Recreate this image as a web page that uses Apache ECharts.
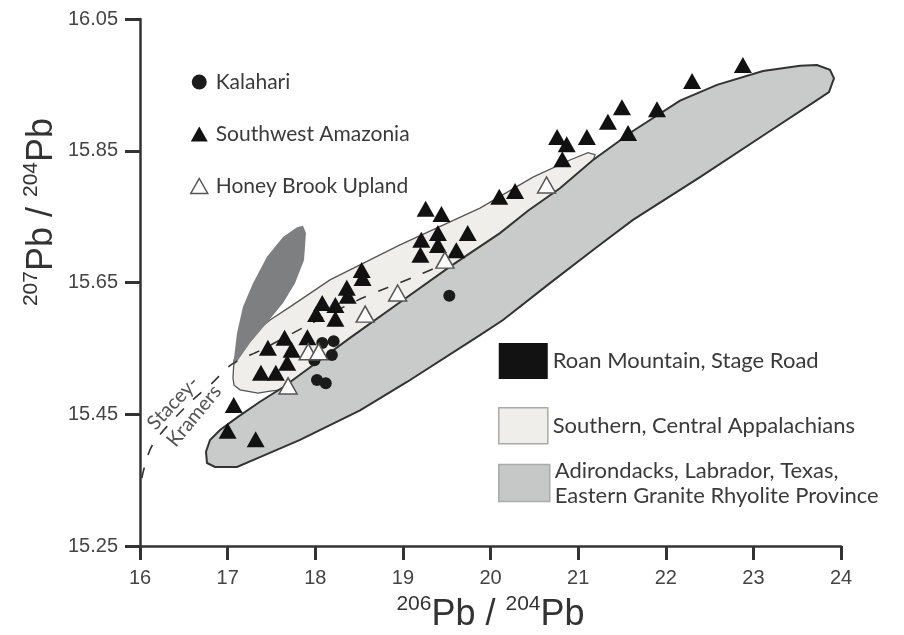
<!DOCTYPE html>
<html>
<head>
<meta charset="utf-8">
<script src="https://cdn.jsdelivr.net/npm/echarts@6/dist/echarts.min.js"></script>
<style>
  html, body { margin: 0; padding: 0; background: #fff; }
  #chart { width: 904px; height: 635px; }
</style>
</head>
<body>
<div id="chart"></div>
<script>
// 206Pb/204Pb, 207Pb/204Pb pairs
const kalahari = [
  [19.53, 15.630], [18.08, 15.558], [18.21, 15.561], [18.19, 15.540],
  [17.99, 15.532], [18.02, 15.502], [18.12, 15.497]
]
const amazonia = [
  [22.88, 15.980], [22.30, 15.956], [21.50, 15.916], [21.90, 15.913],
  [21.34, 15.894], [21.57, 15.877], [20.76, 15.871], [20.87, 15.860],
  [21.10, 15.871], [20.82, 15.837], [20.28, 15.789], [20.10, 15.780],
  [19.26, 15.762], [19.44, 15.754], [19.40, 15.725], [19.21, 15.715],
  [19.74, 15.725], [19.40, 15.707], [19.61, 15.699], [19.20, 15.692],
  [18.53, 15.669], [18.54, 15.657], [18.36, 15.642], [18.37, 15.630],
  [18.08, 15.619], [18.23, 15.616], [18.01, 15.602], [18.23, 15.595],
  [17.65, 15.566], [17.91, 15.567], [17.46, 15.551], [17.73, 15.548],
  [17.68, 15.528], [17.38, 15.513], [17.55, 15.513], [17.07, 15.464],
  [17.00, 15.425], [17.32, 15.412]
]
const honeyBrook = [
  [20.64, 15.798], [19.48, 15.684], [18.94, 15.634], [18.57, 15.602],
  [17.92, 15.545], [18.04, 15.545], [17.69, 15.493]
]
const staceyKramers = [
  [16.02, 15.353], [16.14, 15.403], [16.54, 15.464], [16.82, 15.497],
  [17.05, 15.526], [17.39, 15.548], [17.97, 15.589], [18.53, 15.626],
  [18.82, 15.642], [19.12, 15.658], [19.37, 15.672]
]

// field outlines
const roanMountain = [
  [17.061, 15.522], [17.107, 15.573], [17.175, 15.613], [17.290, 15.649],
  [17.449, 15.689], [17.632, 15.719], [17.792, 15.734], [17.860, 15.736],
  [17.894, 15.725], [17.872, 15.684], [17.769, 15.649], [17.632, 15.619],
  [17.449, 15.589], [17.255, 15.558], [17.118, 15.532]
]
const appalachians = [
  [17.061, 15.505], [17.073, 15.532], [17.164, 15.555], [17.312, 15.575],
  [17.484, 15.593], [17.712, 15.613], [18.168, 15.654], [18.967, 15.707],
  [19.880, 15.763], [20.485, 15.810], [20.907, 15.836], [21.113, 15.847],
  [21.193, 15.844], [21.150, 15.825], [20.100, 15.700], [18.900, 15.590],
  [17.800, 15.490], [17.484, 15.485], [17.347, 15.482], [17.141, 15.487],
  [17.073, 15.494]
]
const adirondacks = [
  [16.753, 15.393], [16.799, 15.411], [16.913, 15.426], [17.118, 15.446],
  [17.369, 15.469], [17.632, 15.491], [17.826, 15.510], [18.397, 15.566],
  [18.967, 15.620], [19.538, 15.674], [20.108, 15.725], [20.428, 15.759],
  [20.793, 15.793], [21.170, 15.836], [21.626, 15.880], [22.163, 15.926],
  [22.585, 15.950], [23.110, 15.971], [23.532, 15.979], [23.726, 15.980],
  [23.874, 15.973], [23.920, 15.960], [23.863, 15.939], [23.669, 15.922],
  [23.155, 15.877], [22.391, 15.810], [21.626, 15.745], [21.215, 15.704],
  [20.679, 15.649], [20.143, 15.593], [19.880, 15.570], [19.047, 15.499],
  [18.511, 15.456], [17.826, 15.411], [17.369, 15.385], [17.107, 15.370],
  [16.856, 15.370], [16.765, 15.376]
]

const pointNames = ['Kalahari', 'Southwest Amazonia', 'Honey Brook Upland']
const fieldNames = [
  'Roan Mountain, Stage Road',
  'Southern, Central Appalachians',
  'Adirondacks, Labrador, Texas,\nEastern Granite Rhyolite Province'
]

const chart = echarts.init(document.getElementById('chart'))

const textFont = 'Lato, "DejaVu Sans", sans-serif'
const labelFont = '"Liberation Sans", Arial, sans-serif'

// polygon drawn once per series through the cartesian scales
const fieldSeries = (name, pts, fill, stroke, lw, z) => ({
  type: 'custom',
  name,
  z,
  silent: true,
  itemStyle: { color: fill },
  data: pts,
  renderItem: (params, api) => {
    if (params.dataIndex !== 0) return null
    return {
      type: 'polygon',
      shape: { points: pts.map(p => api.coord(p)) },
      style: { fill, stroke, lineWidth: lw }
    }
  }
})

const nameRich = {
  b: { fontSize: 36, fontFamily: labelFont, color: '#333', fill: '#333', lineHeight: 40, verticalAlign: 'bottom' },
  sup: { fontSize: 21, fontFamily: labelFont, color: '#333', fill: '#333', lineHeight: 40, verticalAlign: 'top', padding: [1, 0, 0, 0] }
}

const option = {
  animation: false,
  grid: { left: 140, right: 63, top: 19, bottom: 89, outerBoundsMode: 'none', containLabel: false },
  xAxis: {
    type: 'value',
    min: 16,
    max: 24,
    interval: 1,
    name: '{sup|206}{b|Pb / }{sup|204}{b|Pb}',
    nameLocation: 'middle',
    nameGap: 45,
    nameTextStyle: { rich: nameRich },
    axisLine: { lineStyle: { color: '#333', width: 2.5 } },
    axisTick: { length: 14, lineStyle: { color: '#333', width: 3 } },
    axisLabel: { margin: 22, fontSize: 20, color: '#444', fontFamily: labelFont },
    splitLine: { show: false }
  },
  yAxis: {
    type: 'value',
    min: 15.25,
    max: 16.05,
    interval: 0.2,
    axisLine: { show: true, lineStyle: { color: '#333', width: 2.5 } },
    axisTick: { show: true, length: 15, lineStyle: { color: '#333', width: 3 } },
    axisLabel: {
      margin: 22, fontSize: 20, color: '#444', fontFamily: labelFont,
      formatter: v => v.toFixed(2)
    },
    splitLine: { show: false }
  },
  legend: [
    {
      data: [
        { name: pointNames[0], icon: 'circle' },
        { name: pointNames[1], icon: 'triangle' },
        { name: pointNames[2], icon: 'triangle', itemStyle: { color: '#fff', borderColor: '#555', borderWidth: 1.5 } }
      ],
      orient: 'vertical',
      left: 190,
      top: 71,
      padding: 0,
      itemWidth: 17,
      itemHeight: 15,
      itemGap: 30,
      selectedMode: false,
      textStyle: { fontSize: 21, color: '#3a3a3a', fontFamily: textFont, lineHeight: 22, padding: [0, 0, 0, 3] }
    },
    {
      data: [
        { name: fieldNames[0], itemStyle: { color: '#121212', borderWidth: 0 } },
        { name: fieldNames[1], itemStyle: { color: '#efeeeb', borderColor: '#aaa', borderWidth: 1.5 } }
      ],
      orient: 'vertical',
      left: 498,
      top: 343,
      padding: 0,
      icon: 'rect',
      itemWidth: 49,
      itemHeight: 36,
      itemGap: 28,
      selectedMode: false,
      textStyle: { fontSize: 22, color: '#3a3a3a', fontFamily: textFont, lineHeight: 25 }
    },
    {
      data: [
        { name: fieldNames[2], itemStyle: { color: '#c6c7c7', borderColor: '#aaa', borderWidth: 1.5 } }
      ],
      orient: 'vertical',
      left: 498,
      top: 458,
      padding: 0,
      icon: 'rect',
      itemWidth: 51,
      itemHeight: 37,
      selectedMode: false,
      textStyle: { fontSize: 22, color: '#3a3a3a', fontFamily: textFont, lineHeight: 25 }
    }
  ],
  graphic: [
    {
      type: 'text',
      x: 40,
      y: 212,
      rotation: Math.PI / 2,
      style: {
        text: '{sup|207}{b|Pb / }{sup|204}{b|Pb}',
        align: 'center',
        verticalAlign: 'middle',
        rich: nameRich
      }
    },
    {
      type: 'text',
      x: 173,
      y: 403,
      rotation: 0.82,
      style: { text: 'Stacey-', align: 'center', verticalAlign: 'middle', fontSize: 20, fontFamily: textFont, fill: '#555' }
    },
    {
      type: 'text',
      x: 194,
      y: 416,
      rotation: 0.88,
      style: { text: 'Kramers', align: 'center', verticalAlign: 'middle', fontSize: 20, fontFamily: textFont, fill: '#555' }
    }
  ],
  series: [
    fieldSeries(fieldNames[1], appalachians, '#efeeeb', '#555', 1.3, 1),
    fieldSeries(fieldNames[2], adirondacks, '#c9caca', '#333', 2, 2),
    fieldSeries(fieldNames[0], roanMountain, '#7e7f80', null, 0, 3),
    {
      type: 'line',
      name: 'Stacey-Kramers',
      data: staceyKramers,
      smooth: 0.3,
      showSymbol: false,
      silent: true,
      z: 4,
      lineStyle: { color: '#333', width: 1.6, type: [11, 13] }
    },
    {
      type: 'scatter',
      name: pointNames[1],
      data: amazonia,
      symbol: 'triangle',
      symbolSize: [18, 16],
      z: 5,
      itemStyle: { color: '#111', opacity: 1 }
    },
    {
      type: 'scatter',
      name: pointNames[0],
      data: kalahari,
      symbol: 'circle',
      symbolSize: 12,
      z: 6,
      itemStyle: { color: '#1b1b1b', opacity: 1 }
    },
    {
      type: 'scatter',
      name: pointNames[2],
      data: honeyBrook,
      symbol: 'triangle',
      symbolSize: [18, 16],
      z: 7,
      itemStyle: { color: '#fff', borderColor: '#555', borderWidth: 1.5, opacity: 1 }
    }
  ]
}

chart.setOption(option)
window.addEventListener('resize', () => chart.resize())
</script>
</body>
</html>
